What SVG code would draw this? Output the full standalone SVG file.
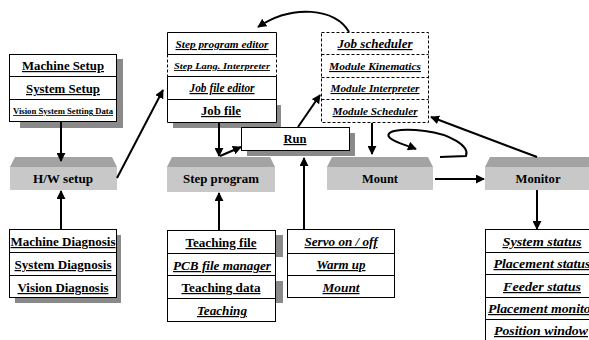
<svg xmlns="http://www.w3.org/2000/svg" width="589" height="340" viewBox="0 0 589 340">
  <defs>
    <marker id="ah" viewBox="0 0 10 10" refX="9" refY="5" markerWidth="4.5" markerHeight="4.5" orient="auto">
      <path d="M0,0 L10,5 L0,10 z" fill="#000"/>
    </marker>
    <style>
      .box { fill: #fff; stroke: #000; stroke-width: 1; }
      .dash { fill: none; stroke: #000; stroke-width: 1; stroke-dasharray: 3 2; }
      .sep { stroke: #000; stroke-width: 1; }
      .sepd { stroke: #000; stroke-width: 1; stroke-dasharray: 3 2; }
      .shadow { fill: #8a8a8a; }
      .bevel { fill: #a3a3a3; }
      .face { fill: #c8c8c8; }
      .t { font-family: "Liberation Serif", "Times New Roman", serif; font-weight: bold; text-anchor: middle; fill: #000; text-decoration: underline; }
      .i { font-style: italic; }
      .n { text-decoration: none; }
      .s12 { font-size: 12px; }
      .s11 { font-size: 11px; }
      .s10 { font-size: 10px; }
      .s9 { font-size: 9px; }
      .s8 { font-size: 8px; }
      .wire { fill: none; stroke: #000; stroke-width: 2; marker-end: url(#ah); }
    </style>
  </defs>
  <rect width="589" height="340" fill="#fff"/>

  <!-- setup list -->
  <g id="setup-list">
    <rect class="shadow" x="20" y="59" width="103" height="69"/>
    <rect class="box" x="9.5" y="54.5" width="107" height="67"/>
    <line class="sep" x1="9.5" y1="76.5" x2="116.5" y2="76.5"/>
    <line class="sep" x1="9.5" y1="99.5" x2="116.5" y2="99.5"/>
    <text class="t s12" x="63" y="70" textLength="82" lengthAdjust="spacingAndGlyphs">Machine Setup</text>
    <text class="t s12" x="63" y="93" textLength="74" lengthAdjust="spacingAndGlyphs">System Setup</text>
    <text class="t s8" x="63" y="114" textLength="100" lengthAdjust="spacingAndGlyphs">Vision System Setting Data</text>
  </g>

  <!-- H/W setup block -->
  <g id="hw-setup">
    <polygon class="bevel" points="15,157 112,157 117,167 10,167"/>
    <rect class="face" x="10" y="167" width="107" height="23"/>
    <text class="t s12 n" x="63" y="183" textLength="60" lengthAdjust="spacingAndGlyphs">H/W setup</text>
  </g>

  <!-- diagnosis list -->
  <g id="diagnosis-list">
    <rect class="shadow" x="15" y="235" width="106" height="68"/>
    <rect class="box" x="9.5" y="229.5" width="107" height="68"/>
    <line class="sep" x1="9.5" y1="252.5" x2="116.5" y2="252.5"/>
    <line class="sep" x1="9.5" y1="275.5" x2="116.5" y2="275.5"/>
    <text class="t s12" x="63" y="246" textLength="105" lengthAdjust="spacingAndGlyphs">Machine Diagnosis</text>
    <text class="t s12" x="63" y="269" textLength="97" lengthAdjust="spacingAndGlyphs">System Diagnosis</text>
    <text class="t s12" x="63" y="292" textLength="91" lengthAdjust="spacingAndGlyphs">Vision Diagnosis</text>
  </g>

  <!-- editor list -->
  <g id="editor-list">
    <rect class="shadow" x="173" y="105" width="108" height="23"/>
    <rect fill="#fff" x="167.5" y="32.5" width="109" height="90"/>
    <path class="sep" fill="none" d="M167.5,54.5 V32.5 H276.5 V54.5"/>
    <path class="sep" fill="none" d="M167.5,76.5 V122.5 H276.5 V76.5"/>
    <line class="sepd" x1="167.5" y1="54.5" x2="167.5" y2="76.5"/>
    <line class="sepd" x1="276.5" y1="54.5" x2="276.5" y2="76.5"/>
    <line class="sep" x1="167.5" y1="54.5" x2="276.5" y2="54.5"/>
    <line class="sep" x1="167.5" y1="76.5" x2="276.5" y2="76.5"/>
    <line class="sep" x1="167.5" y1="99.5" x2="276.5" y2="99.5"/>
    <text class="t i s11" x="222" y="48" textLength="93" lengthAdjust="spacingAndGlyphs">Step program editor</text>
    <text class="t i s9" x="222" y="69" textLength="96" lengthAdjust="spacingAndGlyphs">Step Lang. Interpreter</text>
    <text class="t i s12" x="222" y="92" textLength="65" lengthAdjust="spacingAndGlyphs">Job file editor</text>
    <text class="t s12" x="221" y="115" textLength="40" lengthAdjust="spacingAndGlyphs">Job file</text>
  </g>

  <!-- scheduler list -->
  <g id="scheduler-list">
    <rect class="dash" x="321.5" y="32.5" width="107" height="90"/>
    <line class="sepd" x1="321.5" y1="54.5" x2="428.5" y2="54.5"/>
    <line class="sepd" x1="321.5" y1="77.5" x2="428.5" y2="77.5"/>
    <line class="sepd" x1="321.5" y1="99.5" x2="428.5" y2="99.5"/>
    <text class="t i s12" x="375" y="48" textLength="75" lengthAdjust="spacingAndGlyphs">Job scheduler</text>
    <text class="t i s11" x="375" y="70" textLength="92" lengthAdjust="spacingAndGlyphs">Module Kinematics</text>
    <text class="t i s11" x="375" y="92" textLength="89" lengthAdjust="spacingAndGlyphs">Module Interpreter</text>
    <text class="t i s11" x="375" y="115" textLength="85" lengthAdjust="spacingAndGlyphs">Module Scheduler</text>
  </g>

  <!-- run -->
  <g id="run">
    <rect class="shadow" x="247" y="133" width="108" height="23"/>
    <rect class="box" x="241.5" y="127.5" width="108" height="23"/>
    <text class="t s12" x="295" y="143" textLength="23" lengthAdjust="spacingAndGlyphs">Run</text>
  </g>

  <!-- step program block -->
  <g id="step-program">
    <polygon class="bevel" points="172,157 270,157 275,167 167,167"/>
    <rect class="face" x="167" y="167" width="108" height="25"/>
    <text class="t s12 n" x="221" y="183" textLength="76" lengthAdjust="spacingAndGlyphs">Step program</text>
  </g>

  <!-- mount block -->
  <g id="mount">
    <polygon class="bevel" points="332,157 428,157 433,167 327,167"/>
    <rect class="face" x="327" y="167" width="106" height="23"/>
    <text class="t s12 n" x="380" y="183" textLength="36" lengthAdjust="spacingAndGlyphs">Mount</text>
  </g>

  <!-- monitor block -->
  <g id="monitor">
    <polygon class="bevel" points="490,157 591,157 596,167 485,167"/>
    <rect class="face" x="485" y="167" width="110" height="23"/>
    <text class="t s12 n" x="538" y="183" textLength="45" lengthAdjust="spacingAndGlyphs">Monitor</text>
  </g>

  <!-- teaching list -->
  <g id="teaching-list">
    <rect class="shadow" x="275" y="235" width="8" height="22"/>
    <rect class="shadow" x="275" y="281" width="8" height="22"/>
    <rect class="box" x="167.5" y="230.5" width="108" height="91"/>
    <line class="sep" x1="167.5" y1="253.5" x2="275.5" y2="253.5"/>
    <line class="sep" x1="167.5" y1="275.5" x2="275.5" y2="275.5"/>
    <line class="sep" x1="167.5" y1="298.5" x2="275.5" y2="298.5"/>
    <text class="t s12" x="221" y="247" textLength="71" lengthAdjust="spacingAndGlyphs">Teaching file</text>
    <text class="t i s12" x="222" y="270" textLength="98" lengthAdjust="spacingAndGlyphs">PCB file manager</text>
    <text class="t s12" x="221" y="292" textLength="79" lengthAdjust="spacingAndGlyphs">Teaching data</text>
    <text class="t i s12" x="222" y="315" textLength="50" lengthAdjust="spacingAndGlyphs">Teaching</text>
  </g>

  <!-- servo list -->
  <g id="servo-list">
    <rect class="box" x="287.5" y="229.5" width="107" height="68"/>
    <line class="sep" x1="287.5" y1="253.5" x2="394.5" y2="253.5"/>
    <line class="sep" x1="287.5" y1="275.5" x2="394.5" y2="275.5"/>
    <text class="t i s12" x="341" y="246" textLength="73" lengthAdjust="spacingAndGlyphs">Servo on / off</text>
    <text class="t i s12" x="341" y="269" textLength="49" lengthAdjust="spacingAndGlyphs">Warm up</text>
    <text class="t i s12" x="341" y="292" textLength="37" lengthAdjust="spacingAndGlyphs">Mount</text>
  </g>

  <!-- status list -->
  <g id="status-list">
    <rect class="box" x="485.5" y="229.5" width="110" height="115"/>
    <line class="sep" x1="485.5" y1="252.5" x2="595.5" y2="252.5"/>
    <line class="sep" x1="485.5" y1="274.5" x2="595.5" y2="274.5"/>
    <line class="sep" x1="485.5" y1="297.5" x2="595.5" y2="297.5"/>
    <line class="sep" x1="485.5" y1="319.5" x2="595.5" y2="319.5"/>
    <text class="t i s12" x="542" y="246" textLength="79" lengthAdjust="spacingAndGlyphs">System status</text>
    <text class="t i s12" x="542" y="268" textLength="97" lengthAdjust="spacingAndGlyphs">Placement status</text>
    <text class="t i s12" x="542" y="291" textLength="78" lengthAdjust="spacingAndGlyphs">Feeder status</text>
    <text class="t i s12" x="542" y="313" textLength="108" lengthAdjust="spacingAndGlyphs">Placement monitor</text>
    <text class="t i s12" x="541" y="335" textLength="94" lengthAdjust="spacingAndGlyphs">Position window</text>
  </g>

  <!-- connectors -->
  <g id="connectors">
    <line class="wire" x1="61" y1="122" x2="61" y2="161"/>
    <line class="wire" x1="61" y1="229" x2="61" y2="191"/>
    <line class="wire" x1="117" y1="178" x2="163" y2="90"/>
    <line class="wire" x1="219" y1="123" x2="219" y2="156"/>
    <line class="wire" x1="220" y1="156" x2="241" y2="147"/>
    <line class="wire" x1="298" y1="127" x2="320" y2="95"/>
    <line class="wire" x1="304" y1="229" x2="304" y2="158"/>
    <line class="wire" x1="219" y1="230" x2="219" y2="193"/>
    <line class="wire" x1="372" y1="123" x2="372" y2="154"/>
    <line class="wire" x1="435" y1="179" x2="484" y2="179"/>
    <line class="wire" x1="537" y1="190" x2="537" y2="229"/>
    <line class="wire" x1="537" y1="157" x2="431" y2="117"/>
    <path class="wire" d="M349,32 C336,8 292,4 258,27"/>
    <path class="wire" d="M440,157 L466,156 C470,146 450,134 425,131 C400,128 383,131 390,138 C396,143 406,145 416,149"/>
  </g>
</svg>
